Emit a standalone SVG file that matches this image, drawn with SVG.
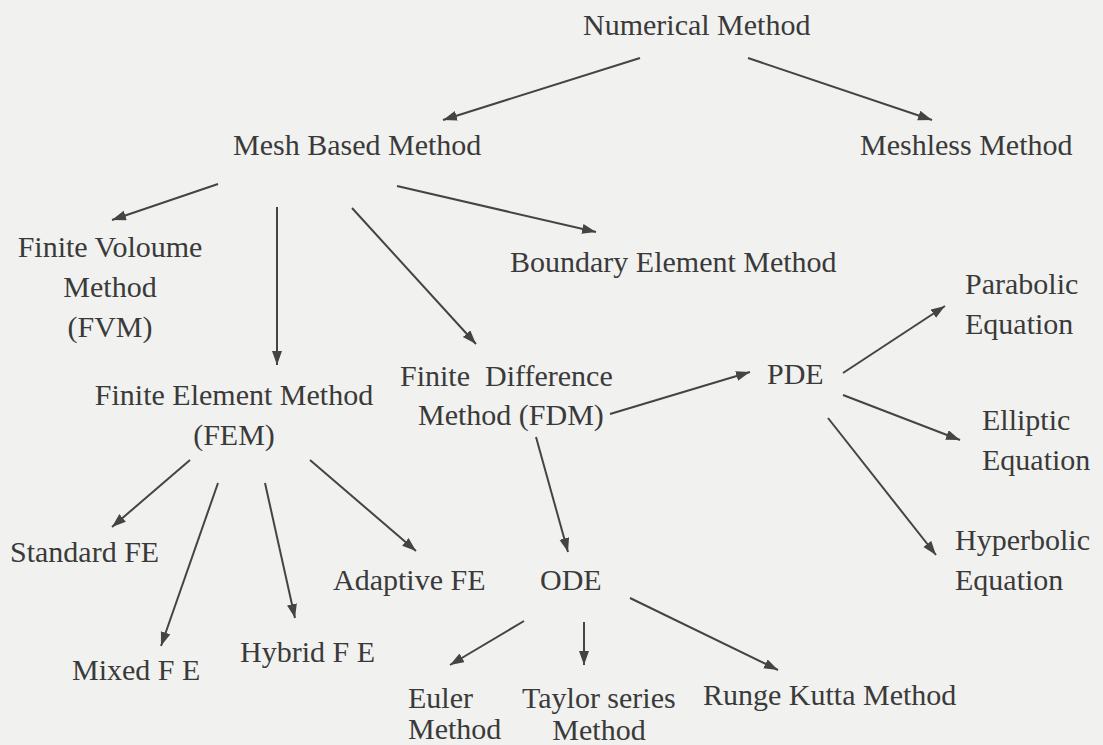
<svg xmlns="http://www.w3.org/2000/svg" width="1103" height="745" viewBox="0 0 1103 745">
<defs>
<marker id="ah" markerUnits="userSpaceOnUse" markerWidth="16" markerHeight="12" refX="14" refY="5" orient="auto">
<path d="M0,0 L14,5 L0,10 z" fill="#444"/>
</marker>
<style>
text{font-family:'Liberation Serif','DejaVu Serif',serif;font-size:30px;fill:#3a3a3a}
.e{stroke:#444;stroke-width:2;fill:none;marker-end:url(#ah)}
</style>
</defs>
<rect width="1103" height="745" fill="#f1f1f0"/>
<g id="connectors">
<line class="e" x1="640" y1="58" x2="443" y2="120"/>
<line class="e" x1="748" y1="58" x2="932" y2="120"/>
<line class="e" x1="218" y1="184" x2="112" y2="220"/>
<line class="e" x1="277" y1="207" x2="277" y2="365"/>
<line class="e" x1="352" y1="208" x2="476" y2="344"/>
<line class="e" x1="397" y1="186" x2="596" y2="232"/>
<line class="e" x1="610" y1="414" x2="750" y2="372"/>
<line class="e" x1="843" y1="373" x2="945" y2="306"/>
<line class="e" x1="843" y1="395" x2="960" y2="440"/>
<line class="e" x1="828" y1="418" x2="936" y2="555"/>
<line class="e" x1="190" y1="460" x2="112" y2="527"/>
<line class="e" x1="218" y1="483" x2="161" y2="646"/>
<line class="e" x1="265" y1="483" x2="295" y2="618"/>
<line class="e" x1="310" y1="460" x2="416" y2="551"/>
<line class="e" x1="536" y1="437" x2="568" y2="552"/>
<line class="e" x1="524" y1="621" x2="450" y2="665"/>
<line class="e" x1="584" y1="622" x2="584" y2="665"/>
<line class="e" x1="630" y1="598" x2="778" y2="670"/>
</g>
<g font-family="Liberation Serif, serif">
<g id="numerical"><text x="583" y="35">Numerical Method</text></g>
<g id="meshbased"><text x="233" y="155">Mesh Based Method</text></g>
<g id="meshless"><text x="860" y="155">Meshless Method</text></g>
<g id="fvm"><text x="110" y="257" text-anchor="middle">Finite Voloume</text><text x="110" y="297" text-anchor="middle">Method</text><text x="110" y="337" text-anchor="middle">(FVM)</text></g>
<g id="bem"><text x="510" y="272">Boundary Element Method</text></g>
<g id="parabolic"><text x="965" y="294">Parabolic</text><text x="965" y="334">Equation</text></g>
<g id="fem"><text x="234" y="405" text-anchor="middle">Finite Element Method</text><text x="234" y="445" text-anchor="middle">(FEM)</text></g>
<g id="fdm"><text x="400" y="386" xml:space="preserve">Finite  Difference</text><text x="418" y="425">Method (FDM)</text></g>
<g id="pde"><text x="767" y="384">PDE</text></g>
<g id="elliptic"><text x="982" y="430">Elliptic</text><text x="982" y="470">Equation</text></g>
<g id="standard"><text x="10" y="562">Standard FE</text></g>
<g id="adaptive"><text x="333" y="590">Adaptive FE</text></g>
<g id="ode"><text x="540" y="590">ODE</text></g>
<g id="hyperbolic"><text x="955" y="550">Hyperbolic</text><text x="955" y="590">Equation</text></g>
<g id="hybrid"><text x="240" y="662">Hybrid F E</text></g>
<g id="mixed"><text x="72" y="680">Mixed F E</text></g>
<g id="euler"><text x="408" y="708">Euler</text><text x="408" y="739">Method</text></g>
<g id="taylor"><text x="522" y="708">Taylor series</text><text x="599" y="740" text-anchor="middle">Method</text></g>
<g id="runge"><text x="703" y="705">Runge Kutta Method</text></g>
</g>
</svg>
